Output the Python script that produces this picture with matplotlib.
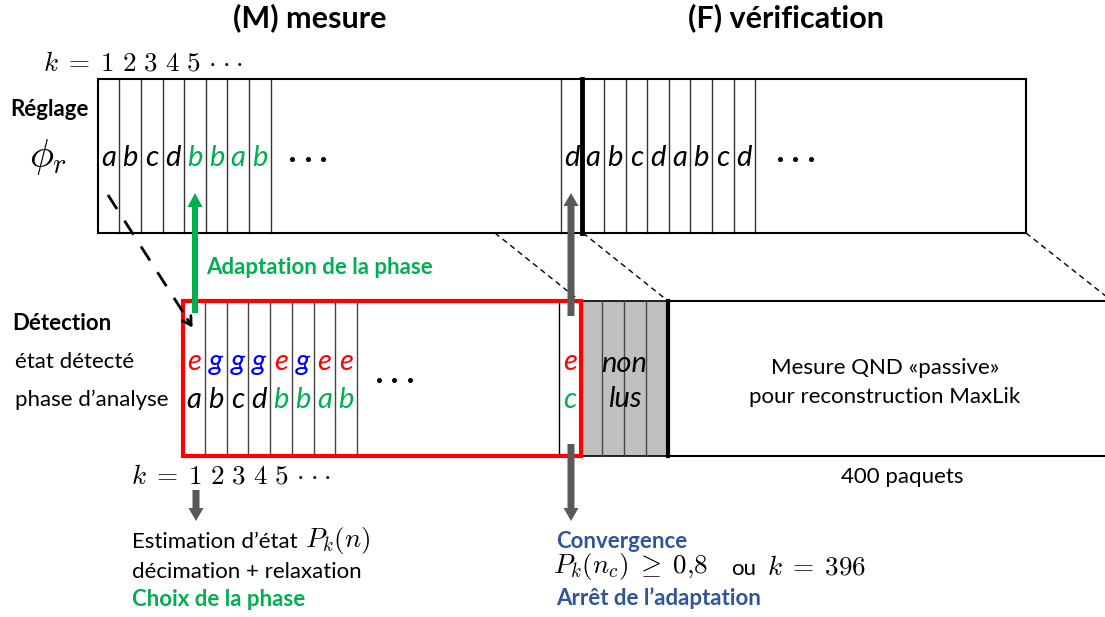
import matplotlib
matplotlib.use("Agg")
import matplotlib.pyplot as plt
from matplotlib.patches import Rectangle, FancyArrow
from matplotlib.lines import Line2D

plt.rcParams['font.family'] = ['Lato', 'DejaVu Sans']
plt.rcParams['mathtext.fontset'] = 'cm'

# ---- content ----
titles = ["(M) mesure", "(F) vérification"]
reglage_M = ["a", "b", "c", "d", "b", "b", "a", "b"]
reglage_M_adapted = [False, False, False, False, True, True, True, True]
reglage_F = ["d", "a", "b", "c", "d", "a", "b", "c", "d"]
etats = ["e", "g", "g", "g", "e", "g", "e", "e"]
phases = ["a", "b", "c", "d", "b", "b", "a", "b"]
phases_adapted = [False, False, False, False, True, True, True, True]
etat_final, phase_final = "e", "c"
n_non_lus = 4
k_label = r"$k\;=\;1\ 2\ 3\ 4\ 5\,\cdot\!\cdot\!\cdot$"

RED = "#ff0000"
BLUE = "#0000ff"
GREEN = "#00b050"
NAVY = "#2f5597"
DGRAY = "#595959"
LGRAY = "#c0c0c0"
state_color = {"e": RED, "g": BLUE}

BODY = 16
LET = 21
MATH = 19.5

fig = plt.figure(figsize=(11.05, 6.17), dpi=100)
ax = fig.add_axes([0, 0, 1, 1])
ax.set_xlim(0, 1105)
ax.set_ylim(617, 0)
ax.axis("off")

# ---- layout ----
W = 21.6
top_x0, top_y0, top_y1, top_x1 = 97.7, 78.5, 233.0, 1025.5
topF_x0 = 560.7
bot_x0, bot_y0, bot_y1 = 183.3, 301.0, 455.5
botW = 21.7
bot_fin_x0, bot_red_x1 = 559.0, 580.5
gray_x1 = 668.3

def vline(x, y0, y1, color="#333333", lw=1.0, z=2):
    ax.add_line(Line2D([x, x], [y0, y1], color=color, lw=lw, zorder=z))

def ellipsis(xc, y, gap=15.5):
    ax.plot([xc - gap, xc, xc + gap], [y, y, y], ls="none", marker="o",
            ms=2.6, color="black", zorder=5)

# titles
ax.text(310, 18, titles[0], ha="center", va="center", fontsize=22, fontweight="bold")
ax.text(786, 18, titles[1], ha="center", va="center", fontsize=22, fontweight="bold")

# top box
ax.add_patch(Rectangle((top_x0, top_y0), top_x1 - top_x0, top_y1 - top_y0,
                       fill=False, ec="black", lw=1.5, zorder=3))
for i in range(1, len(reglage_M) + 1):
    vline(top_x0 + i * W, top_y0, top_y1)
for i, (ch, ad) in enumerate(zip(reglage_M, reglage_M_adapted)):
    ax.text(top_x0 + (i + 0.5) * W, 158, ch, ha="center", va="center",
            fontsize=LET, style="italic", color=GREEN if ad else "black")
ellipsis(307.5, 159)
# F part of the top box
vline(topF_x0, top_y0, top_y1)
for i in range(1, len(reglage_F) + 1):
    vline(topF_x0 + i * W, top_y0, top_y1,
          color="black" if i == 1 else "#333333", lw=3.5 if i == 1 else 1.0)
for i, ch in enumerate(reglage_F):
    ax.text(topF_x0 + (i + 0.5) * W, 158, ch, ha="center", va="center",
            fontsize=LET, style="italic", color="black")
ellipsis(795, 159)

ax.text(143, 63, k_label, ha="center", va="center", fontsize=MATH)
ax.text(49, 110, "Réglage", ha="center", va="center", fontsize=BODY, fontweight="bold")
ax.text(48, 157, r"$\phi_r$", ha="center", va="center", fontsize=29)

# bottom box: white area right, gray unread, red measurement box
ax.add_line(Line2D([gray_x1, 1105], [bot_y0, bot_y0], color="black", lw=1.5, zorder=3))
ax.add_line(Line2D([gray_x1, 1105], [bot_y1, bot_y1], color="black", lw=1.5, zorder=3))
ax.add_patch(Rectangle((bot_red_x1, bot_y0), gray_x1 - bot_red_x1, bot_y1 - bot_y0,
                       fc=LGRAY, ec="black", lw=1.2, zorder=2))
for i in range(1, n_non_lus):
    vline(bot_red_x1 + i * (gray_x1 - bot_red_x1) / n_non_lus, bot_y0, bot_y1, color="#444444")
vline(gray_x1, bot_y0, bot_y1, color="black", lw=3.0, z=4)
ax.text((bot_red_x1 + gray_x1) / 2, 364, "non", ha="center", va="center",
        fontsize=LET, style="italic", zorder=5)
ax.text((bot_red_x1 + gray_x1) / 2, 399, "lus", ha="center", va="center",
        fontsize=LET, style="italic", zorder=5)

for i in range(1, len(etats) + 1):
    vline(bot_x0 + i * botW, bot_y0, bot_y1, color="#444444")
vline(bot_fin_x0, bot_y0, bot_y1, color="black")
for i, (s, p, ad) in enumerate(zip(etats, phases, phases_adapted)):
    cx = bot_x0 + (i + 0.5) * botW
    ax.text(cx, 362, s, ha="center", va="center", fontsize=LET, style="italic",
            color=state_color[s])
    ax.text(cx, 400, p, ha="center", va="center", fontsize=LET, style="italic",
            color=GREEN if ad else "black")
ellipsis(394, 380)
cx = (bot_fin_x0 + bot_red_x1) / 2
ax.text(cx, 362, etat_final, ha="center", va="center", fontsize=LET, style="italic",
        color=state_color[etat_final])
ax.text(cx, 400, phase_final, ha="center", va="center", fontsize=LET, style="italic",
        color=GREEN)
ax.add_patch(Rectangle((bot_x0, bot_y0), bot_red_x1 - bot_x0, bot_y1 - bot_y0,
                       fill=False, ec=RED, lw=3.0, zorder=4))

ax.text(885, 368, "Mesure QND «passive»", ha="center", va="center", fontsize=BODY)
ax.text(885, 397, "pour reconstruction MaxLik", ha="center", va="center", fontsize=BODY)
ax.text(902, 477, "400 paquets", ha="center", va="center", fontsize=BODY)

ax.text(12, 323, "Détection", ha="left", va="center", fontsize=BODY, fontweight="bold")
ax.text(15, 362, "état détecté", ha="left", va="center", fontsize=BODY)
ax.text(15, 400, "phase d’analyse", ha="left", va="center", fontsize=BODY)
ax.text(231, 476, k_label, ha="center", va="center", fontsize=MATH)

# dashed projection lines
for (x0, y0), (x1, y1) in [((495, 233), (580, 301)), ((583, 233), (668, 301)),
                           ((1026, 233), (1112, 301))]:
    ax.add_line(Line2D([x0, x1], [y0, y1], color="black", lw=1.0,
                       ls=(0, (4, 3)), zorder=1))

# black dashed arrow
ax.add_line(Line2D([108, 190], [195, 323], color="black", lw=2.0, ls=(0, (6, 5)), zorder=5))
ax.annotate("", xy=(194, 330), xytext=(186, 317),
            arrowprops=dict(arrowstyle="->,head_length=0.6,head_width=0.35",
                            lw=2.0, color="black"), zorder=6)

# green arrow
ax.add_patch(FancyArrow(195, 313, 0, -120, width=6, head_width=15, head_length=14,
                        length_includes_head=True, color=GREEN, lw=0, zorder=6))
ax.text(206, 268, "Adaptation de la phase", ha="left", va="center", fontsize=BODY,
        fontweight="bold", color=GREEN)

# gray arrows
ax.add_patch(FancyArrow(571, 316, 0, -123, width=7, head_width=15, head_length=13,
                        length_includes_head=True, color=DGRAY, lw=0, zorder=6))
ax.add_patch(FancyArrow(571, 444, 0, 77, width=7, head_width=15, head_length=13,
                        length_includes_head=True, color=DGRAY, lw=0, zorder=6))
ax.add_patch(FancyArrow(196, 490, 0, 31, width=7, head_width=15, head_length=13,
                        length_includes_head=True, color=DGRAY, lw=0, zorder=6))

# bottom annotations
ax.text(132, 542, "Estimation d’état", ha="left", va="center", fontsize=BODY)
ax.text(305, 540, r"$P_k(n)$", ha="left", va="center", fontsize=MATH)
ax.text(132, 572, "décimation + relaxation", ha="left", va="center", fontsize=BODY)
ax.text(132, 600, "Choix de la phase", ha="left", va="center", fontsize=BODY,
        fontweight="bold", color=GREEN)
ax.text(556, 541, "Convergence", ha="left", va="center", fontsize=BODY,
        fontweight="bold", color=NAVY)
ax.text(553, 567, r"$P_k(n_c)\;\geq\;0{,}8$", ha="left", va="center", fontsize=MATH)
ax.text(731, 569, "ou", ha="left", va="center", fontsize=BODY)
ax.text(767, 567, r"$k\;=\;396$", ha="left", va="center", fontsize=MATH)
ax.text(556, 598, "Arrêt de l’adaptation", ha="left", va="center", fontsize=BODY,
        fontweight="bold", color=NAVY)

fig.savefig("out.png", dpi=100)
